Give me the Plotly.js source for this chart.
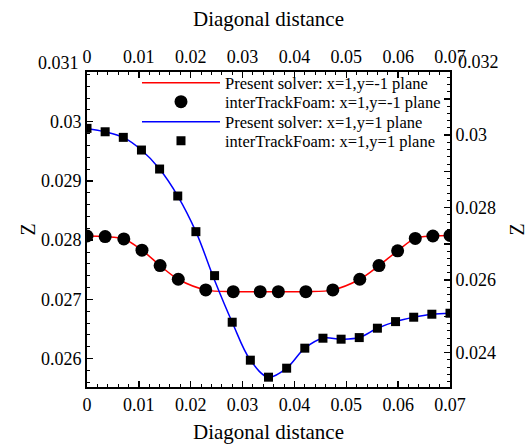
<!DOCTYPE html>
<html>
<head>
<meta charset="utf-8">
<script src="https://cdn.plot.ly/plotly-3.0.1.min.js"></script>
<style>html,body{margin:0;padding:0;background:#fff;}#chart{width:528px;height:448px;}</style>
</head>
<body>
<div id="chart"></div>
<script>
// y=-1 plane (left axis)
const redX = [0, 0.0035, 0.0071, 0.0106, 0.0141, 0.0176, 0.0229, 0.0282, 0.0334, 0.0369, 0.0422, 0.0474, 0.0526, 0.0563, 0.0599, 0.0633, 0.0667, 0.07];
const redY = [0.02807, 0.02806, 0.02802, 0.02783, 0.02757, 0.02734, 0.02716, 0.02713, 0.02713, 0.02713, 0.02713, 0.02716, 0.02734, 0.02757, 0.02782, 0.02803, 0.02807, 0.02808];
// y=1 plane (right axis)
const blueX = [0, 0.0035, 0.007, 0.0105, 0.014, 0.0175, 0.021, 0.0246, 0.028, 0.0315, 0.035, 0.0385, 0.042, 0.0455, 0.049, 0.0525, 0.056, 0.0595, 0.063, 0.0665, 0.07];
const blueY = [0.030185, 0.030091, 0.029937, 0.029587, 0.029063, 0.028319, 0.027335, 0.026122, 0.024837, 0.02379, 0.023321, 0.023569, 0.024121, 0.024396, 0.024369, 0.024413, 0.024672, 0.024854, 0.024975, 0.025058, 0.025085];
const blueLineY = [0.030185, 0.030091, 0.029937, 0.029587, 0.029063, 0.028319, 0.027335, 0.025995, 0.024837, 0.02379, 0.023321, 0.023569, 0.024121, 0.024396, 0.024369, 0.024413, 0.024672, 0.024854, 0.024975, 0.025058, 0.025085];

const legendNames = ["Present solver: x=1,y=-1 plane", "interTrackFoam: x=1,y=-1 plane", "Present solver: x=1,y=1 plane", "interTrackFoam: x=1,y=1 plane"];
const xTicks = [0, 0.01, 0.02, 0.03, 0.04, 0.05, 0.06, 0.07];
const xTickText = ["0", "0.01", "0.02", "0.03", "0.04", "0.05", "0.06", "0.07"];
const leftTicks = [0.026, 0.027, 0.028, 0.029, 0.03];
const leftTickText = ["0.026", "0.027", "0.028", "0.029", "0.03"];
const rightTicks = [0.024, 0.025, 0.026, 0.027, 0.028, 0.029, 0.03, 0.031];
const rightTickText = ["0.024", "", "0.026", "", "0.028", "", "0.03", ""];
const xTitle = "Diagonal distance";
const yTitle = "Z";

const FONT = "Liberation Serif";

const traces = [
  {x: redX, y: redY, mode: "lines", line: {color: "red", width: 1.5, shape: "spline"}, name: legendNames[0], xaxis: "x", yaxis: "y", legend: "legend"},
  {x: redX, y: redY, mode: "markers", marker: {symbol: "circle", size: 13, color: "black"}, name: legendNames[1], xaxis: "x", yaxis: "y", legend: "legend2"},
  {x: blueX, y: blueLineY, mode: "lines", line: {color: "blue", width: 1.5, shape: "spline"}, name: legendNames[2], xaxis: "x", yaxis: "y2", legend: "legend3"},
  {x: blueX, y: blueY, mode: "markers", marker: {symbol: "square", size: 9, color: "black"}, name: legendNames[3], xaxis: "x", yaxis: "y2", legend: "legend4"}
];

const axisCommon = {
  showgrid: false, zeroline: false, showline: true, linecolor: "black", linewidth: 2,
  ticks: "inside", ticklen: 6, tickwidth: 1.5, tickcolor: "black",
  tickfont: {family: FONT, size: 18, color: "black"}
};

function legendAt(yPaper) {
  return {x: 0.1377, y: yPaper, xanchor: "left", yanchor: "middle", bgcolor: "rgba(0,0,0,0)", borderwidth: 0,
          font: {family: FONT, size: 16.5, color: "black"}, itemwidth: 78};
}

const layout = {
  width: 528, height: 448,
  margin: {l: 87, r: 78, t: 72, b: 61},
  paper_bgcolor: "white", plot_bgcolor: "white",
  font: {family: FONT, color: "black"},
  showlegend: true,
  legend: legendAt(0.9651),
  legend2: legendAt(0.9048),
  legend3: legendAt(0.8414),
  legend4: legendAt(0.7812),
  xaxis: Object.assign({}, axisCommon, {
    range: [0, 0.07], tickmode: "array", tickvals: xTicks, ticktext: xTickText,
    minor: {dtick: 0.002, tick0: 0, ticks: "inside", ticklen: 3, tickcolor: "black", tickwidth: 1},
    title: {text: xTitle, font: {family: FONT, size: 21, color: "black"}, standoff: 11}
  }),
  xaxis2: Object.assign({}, axisCommon, {
    overlaying: "x", side: "top", matches: "x", range: [0, 0.07], tickmode: "array", tickvals: xTicks, ticktext: xTickText,
    minor: {dtick: 0.002, tick0: 0, ticks: "inside", ticklen: 3, tickcolor: "black", tickwidth: 1},
    title: {text: xTitle, font: {family: FONT, size: 21, color: "black"}, standoff: 14}
  }),
  yaxis: Object.assign({}, axisCommon, {
    range: [0.02552, 0.03084], tickmode: "array", tickvals: leftTicks, ticktext: leftTickText,
    minor: {dtick: 0.0002, tick0: 0.026, ticks: "inside", ticklen: 3, tickcolor: "black", tickwidth: 1},
    title: {text: yTitle, font: {family: FONT, size: 20, color: "black"}, standoff: 0}
  }),
  yaxis2: Object.assign({}, axisCommon, {
    overlaying: "y", side: "right", range: [0.02305, 0.03174], tickmode: "array", tickvals: rightTicks, ticktext: rightTickText,
    minor: {dtick: 0.0002, tick0: 0.024, ticks: "inside", ticklen: 3, tickcolor: "black", tickwidth: 1},
    title: {text: yTitle, font: {family: FONT, size: 20, color: "black"}, standoff: 17}
  }),
  annotations: [
    {xref: "paper", yref: "paper", x: 0, y: 1.0285, xanchor: "right", yanchor: "middle", xshift: -6, showarrow: false,
     text: "0.031", font: {family: FONT, size: 18, color: "black"}},
    {xref: "paper", yref: "paper", x: 1, y: 1.0315, xanchor: "left", yanchor: "middle", xshift: 6, showarrow: false,
     text: "0.032", font: {family: FONT, size: 18, color: "black"}}
  ]
};

// attach x2 so the top axis is drawn
traces.push({x: [null], y: [null], xaxis: "x2", yaxis: "y", showlegend: false, hoverinfo: "skip", mode: "markers"});

Plotly.newPlot("chart", traces, layout, {staticPlot: true, displayModeBar: false});
</script>
</body>
</html>
